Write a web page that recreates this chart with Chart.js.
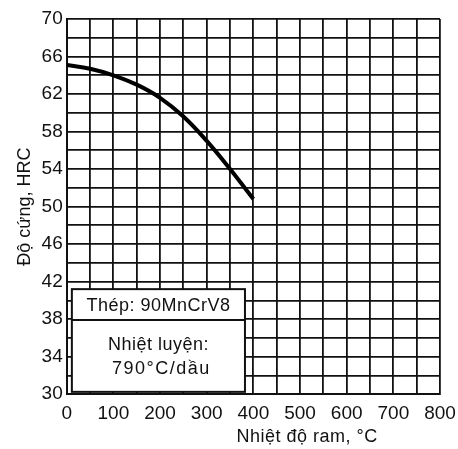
<!DOCTYPE html>
<html>
<head>
<meta charset="utf-8">
<script src="https://cdn.jsdelivr.net/npm/chart.js@4.4.1/dist/chart.umd.min.js"></script>
<style>
  body { margin: 0; background: #fff; }
  #wrap { width: 458px; height: 449px; }
</style>
</head>
<body>
<div id="wrap"><canvas id="graphId" width="458" height="449"></canvas></div>
<script>
// nhiet do ram (°C) va do cung (HRC)
var nhietDo = [0, 50, 100, 150, 200, 250, 300, 350, 400];
var doCung = [65.1, 64.7, 64.0, 63.0, 61.6, 59.6, 57.0, 54.0, 50.8];

var yMin = 30, yMax = 70;
var xMin = 0, xMax = 800;

var hopThep = 'Thép: 90MnCrV8';
var hopNhiet = ['Nhiệt luyện:', '790°C/dầu'];
var tieuDeX = 'Nhiệt độ ram, °C';
var tieuDeY = 'Độ cứng, HRC';

var pts = [];
for (var i = 0; i < nhietDo.length; i++) {
  pts.push({ x: nhietDo[i], y: doCung[i] });
}

var FONT = '"Liberation Sans", Arial, sans-serif';

// hop chu thich + tieu de truc x
const hopPlugin = {
  id: 'hop',
  afterDraw(chart) {
    const c = chart.ctx;
    const xs = chart.scales.x, ys = chart.scales.y;
    const l = xs.getPixelForValue(11), r = xs.getPixelForValue(382);
    const t = ys.getPixelForValue(41.2), b = ys.getPixelForValue(30.25);
    const m = ys.getPixelForValue(37.9);
    c.save();
    c.fillStyle = '#fff';
    c.fillRect(l, t, r - l, b - t);
    c.strokeStyle = '#111';
    c.lineWidth = 2;
    c.strokeRect(l, t, r - l, b - t);
    c.beginPath();
    c.moveTo(l, m); c.lineTo(r, m);
    c.stroke();
    c.fillStyle = '#111';
    c.font = '18px ' + FONT;
    c.textAlign = 'center';
    c.textBaseline = 'middle';
    const cx = (l + r) / 2;
    c.letterSpacing = '0.5px';
    c.fillText(hopThep, cx, (t + m) / 2 + 1);
    c.fillText(hopNhiet[0], cx, ys.getPixelForValue(35.2));
    c.letterSpacing = '1.5px';
    c.fillText(hopNhiet[1], cx + 3, ys.getPixelForValue(32.7));
    // x title
    c.letterSpacing = '0.5px';
    c.fillText(tieuDeX, xs.getPixelForValue(515), chart.height - 12);
    c.restore();
  }
};

const ctx = document.getElementById('graphId').getContext('2d');
const myChart = new Chart(ctx, {
  type: 'line',
  data: {
    datasets: [{
      data: pts,
      borderColor: '#000',
      borderWidth: 4,
      pointRadius: 0,
      tension: 0.4,
      fill: false
    }]
  },
  options: {
    responsive: false,
    animation: false,
    layout: { padding: { top: 19, right: 0, bottom: 16, left: 12 } },
    plugins: { legend: { display: false }, tooltip: { enabled: false } },
    scales: {
      x: {
        type: 'linear',
        min: xMin, max: xMax,
        afterFit: function (s) { s.paddingRight = 18; },
        ticks: {
          stepSize: 50,
          color: '#111',
          padding: 8,
          maxRotation: 0,
          autoSkip: false,
          font: { size: 19, family: FONT },
          callback: function (v) { return v % 100 === 0 ? v : ''; }
        },
        grid: { color: '#111', lineWidth: 1.8, drawTicks: false },
        border: { color: '#111', width: 2 }
      },
      y: {
        min: yMin, max: yMax,
        ticks: {
          stepSize: 2,
          color: '#111',
          padding: 4,
          autoSkip: false,
          font: { size: 19, family: FONT },
          callback: function (v) { return (v - yMin) % 4 === 0 ? v : ''; }
        },
        grid: { color: '#111', lineWidth: 1.8, drawTicks: false },
        border: { color: '#111', width: 2 },
        title: {
          display: true,
          text: tieuDeY,
          color: '#111',
          padding: 2,
          font: { size: 18, family: FONT }
        }
      }
    }
  },
  plugins: [hopPlugin]
});
</script>
</body>
</html>
